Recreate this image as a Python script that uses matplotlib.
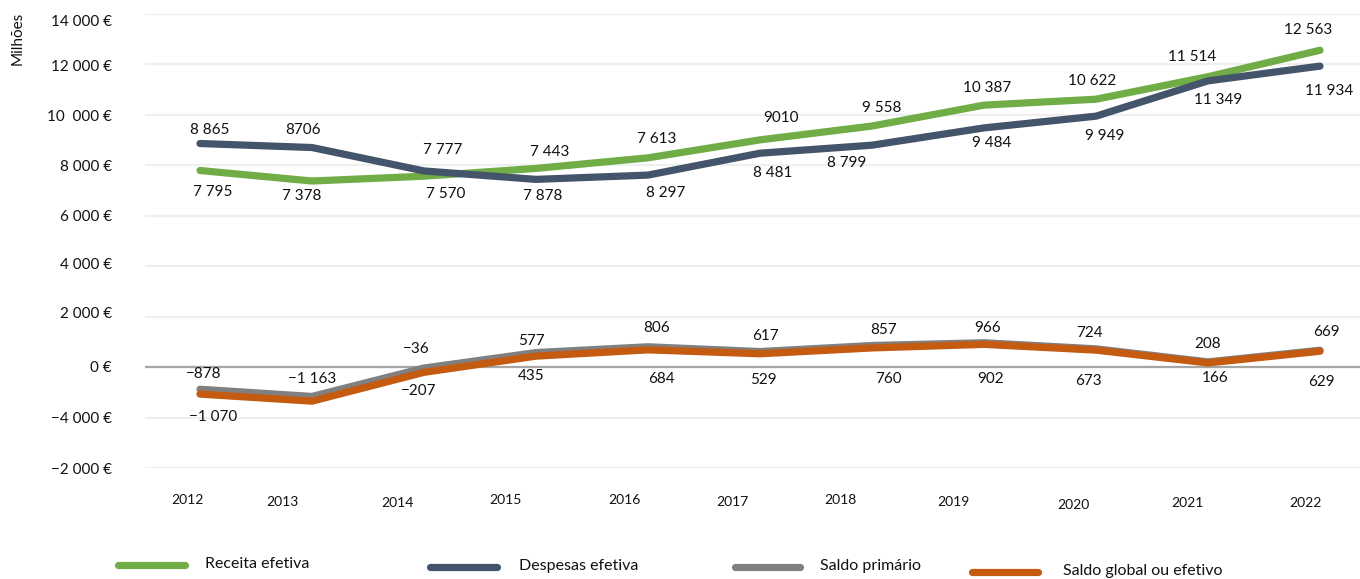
import matplotlib
matplotlib.use("Agg")
import matplotlib.pyplot as plt
import matplotlib.transforms as mtransforms
from matplotlib.lines import Line2D

# ---- data (milhões de euros) ----
years = list(range(2012, 2023))
receita_efetiva = [7795, 7378, 7570, 7878, 8297, 9010, 9558, 10387, 10622, 11514, 12563]
despesa_efetiva = [8865, 8706, 7777, 7443, 7613, 8481, 8799, 9484, 9949, 11349, 11934]
saldo_primario = [-878, -1163, -36, 577, 806, 617, 857, 966, 724, 208, 669]
saldo_global = [-1070, -1350, -207, 435, 684, 529, 760, 902, 673, 166, 629]

y_ticks = [-4000, -2000, 0, 2000, 4000, 6000, 8000, 10000, 12000, 14000]
y_tick_labels = ["−2 000 €", "−4 000 €", "0 €", "2 000 €", "4 000 €", "6 000 €",
                 "8 000 €", "10  000 €", "12 000 €", "14 000 €"]
series_names = ["Receita efetiva", "Despesas efetiva", "Saldo primário",
                "Saldo global ou efetivo"]

# ---- styling ----
W, H = 1360, 579
FONT = ["Lato", "DejaVu Sans"]
plt.rcParams["font.family"] = FONT
colors = ["#70AD47", "#44546A", "#808080", "#C55A11"]
TXT = "#111111"

# label offsets in pixels (dx, dy) relative to each point; None = no label
off_receita = [(13, -21), (-10, -15), (22, -18), (7, -28), (18, -35), (21, 22),
               (10, 18), (3, 17), (-4, 18), (-16, 20), (-12, 20)]
off_despesa = [(10, 14), (-9, 18), (19, 21), (14, 27), (9, 36), (13, -20),
               (-25, -18), (8, -15), (9, -20), (10, -19), (9, -25)]
off_primario = [(4, 15), (0, 17), (-8, 19), (-5, 12), (9, 19), (5, 16),
                (12, 15), (4, 15), (-7, 16), (0, 18), (6, 18)]
off_global = [(13, -23), None, (-5, -19), (-5, -20), (13, -29), (3, -26),
              (16, -31), (7, -35), (-8, -31), (7, -15), (1, -31)]
# labels printed without thousands separator
no_sep = {(1, 1), (0, 5)}

# year label offsets (pixels from the point position / axes bottom)
year_dx = [-13, -30, -27, -31, -24, -28, -32, -31, -23, -21, -15]
year_dy = [-32, -34, -35, -32, -32, -34, -32, -34, -37, -35, -35]
# vertical nudges (pixels) of the y tick labels
ytick_dy = [0, 0, 1, 4, 3, 0, 0, -1, -1, -7]


def fmt(v, sep=True):
    s = f"{abs(v):,}".replace(",", " " if sep else "")
    return ("−" if v < 0 else "") + s


fig = plt.figure(figsize=(W / 100, H / 100), dpi=100)
ax = fig.add_axes([145 / W, 1 - 468 / H, (W - 145) / W, 454 / H])

x0 = 2012 - 55 / 112
x1 = 2012 + (W - 200) / 112
ax.set_xlim(x0, x1)
ax.set_ylim(-4000, 14000)

for s in ax.spines.values():
    s.set_visible(False)

ax.set_yticks(y_ticks)
ax.set_yticklabels(y_tick_labels, fontsize=11, color=TXT)
ax.tick_params(axis="y", length=0, pad=24)
for lbl, dy in zip(ax.get_yticklabels(), ytick_dy):
    lbl.set_transform(lbl.get_transform() +
                      mtransforms.ScaledTranslation(0, dy / 100, fig.dpi_scale_trans))
ax.set_xticks([])
ax.yaxis.grid(True, color="#EFEFEF", linewidth=1.6)
ax.set_axisbelow(True)
ax.axhline(0, color="#A6A6A6", linewidth=1.6, zorder=1)

ax.text((18 - 145) / (W - 145), 1 - (38 - 14) / 454, "Milhões", rotation=90,
        transform=ax.transAxes, ha="center", va="center", fontsize=11, color=TXT)

series = [
    (receita_efetiva, off_receita, 0, 4),
    (despesa_efetiva, off_despesa, 1, 5),
    (saldo_primario, off_primario, 2, 3),
    (saldo_global, off_global, 3, 4),
]
for vals, offs, idx, z in series:
    ax.plot(years, vals, color=colors[idx], linewidth=5.2, solid_capstyle="round",
            solid_joinstyle="round", zorder=z, clip_on=False)
    for i, (yr, v, o) in enumerate(zip(years, vals, offs)):
        if o is None:
            continue
        ax.annotate(fmt(v, (idx, i) not in no_sep), xy=(yr, v), xytext=o,
                    textcoords="offset pixels", ha="center", va="center",
                    fontsize=11, color=TXT, zorder=6)

for yr, dx, dy in zip(years, year_dx, year_dy):
    ax.annotate(str(yr), xy=(yr, 0), xycoords=("data", "axes fraction"),
                xytext=(dx, dy), textcoords="offset pixels", ha="center",
                va="center", fontsize=10, color=TXT, annotation_clip=False)

# legend row
legend_pos = [(118, 185, 565, 205), (430, 497, 567, 519),
              (735, 800, 567, 820), (972, 1038, 572, 1063)]
for name, c, (lx0, lx1, ly, tx) in zip(series_names, colors, legend_pos):
    fig.add_artist(Line2D([lx0 / W, lx1 / W], [1 - ly / H, 1 - ly / H],
                          transform=fig.transFigure, color=c, linewidth=5.2,
                          solid_capstyle="round"))
    fig.text(tx / W, 1 - (ly - 1) / H, name, ha="left", va="center",
             fontsize=11.5, color=TXT)

fig.savefig("out.png", dpi=100, facecolor="white")
